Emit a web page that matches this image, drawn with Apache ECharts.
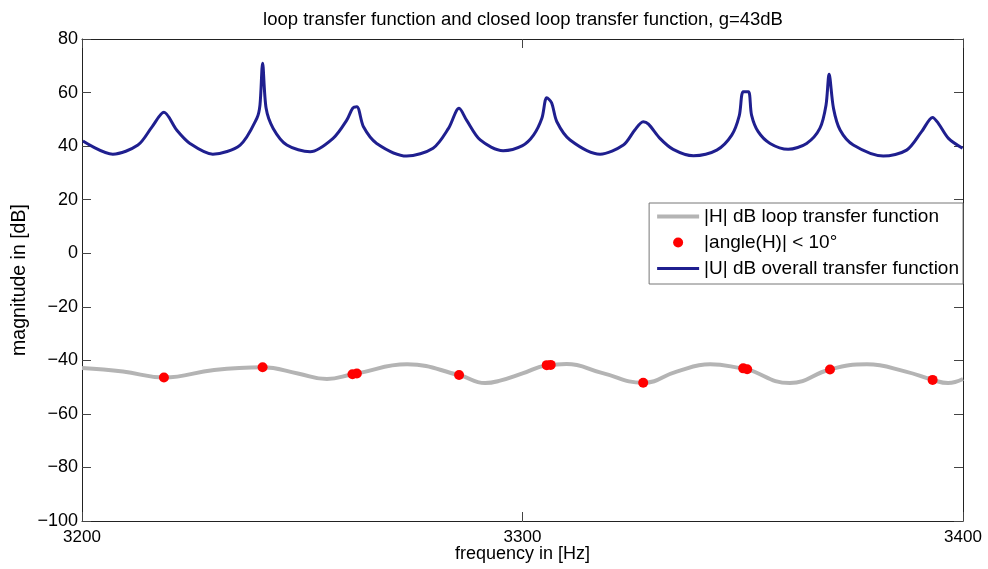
<!DOCTYPE html>
<html>
<head>
<meta charset="utf-8">
<script src="https://cdn.jsdelivr.net/npm/echarts@6/dist/echarts.min.js"></script>
<style>
  html, body { margin: 0; padding: 0; background: #fff; }
  #chart { width: 988px; height: 569px; }
</style>
</head>
<body>
<div id="chart"></div>
<script>
// |U| dB: overall (closed loop) transfer function, [frequency Hz, dB]
const overallTF = [
  [3200.2, 41.9], [3207.0, 37.0], [3212.7, 40.4], [3215.9, 47.2], [3218.6, 52.6],
  [3221.5, 46.0], [3224.5, 41.0], [3229.7, 37.0], [3235.9, 40.4], [3239.7, 50.4],
  [3240.4, 55.3], [3241.0, 70.9], [3241.8, 54.1], [3243.4, 46.6], [3246.5, 40.4],
  [3251.8, 37.9], [3257.0, 42.9], [3260.1, 49.7], [3261.5, 54.3], [3262.4, 54.7],
  [3263.9, 47.2], [3266.9, 41.0], [3273.7, 36.3], [3279.7, 39.2], [3283.2, 46.6],
  [3285.6, 54.1], [3287.3, 49.7], [3290.4, 42.3], [3295.6, 38.3], [3300.0, 40.2],
  [3302.5, 44.1], [3304.4, 50.4], [3305.5, 58.1], [3306.6, 56.2], [3307.8, 49.1],
  [3310.8, 42.3], [3317.6, 37.0], [3322.9, 40.4], [3325.5, 46.0], [3327.4, 49.1],
  [3328.6, 48.2], [3331.2, 42.9], [3334.2, 38.8], [3338.8, 36.4], [3344.1, 38.5],
  [3347.5, 44.1], [3349.2, 51.3], [3350.1, 60.3], [3351.3, 60.3], [3352.0, 51.6],
  [3353.5, 45.4], [3356.2, 41.0], [3360.3, 38.8], [3364.5, 41.0], [3367.5, 46.6],
  [3368.9, 55.3], [3369.6, 66.8], [3370.6, 54.1], [3372.1, 46.0], [3375.1, 40.4],
  [3381.9, 36.3], [3387.2, 38.5], [3390.6, 45.4], [3393.1, 50.7], [3394.4, 48.5],
  [3396.7, 42.9], [3399.9, 39.2]
];

// |H| dB: loop transfer function
const loopTF = [
  [3200.0, -42.9], [3209.3, -44.2], [3218.6, -46.4], [3230.0, -43.6], [3241.0, -42.6],
  [3249.0, -44.9], [3255.6, -47.0], [3261.4, -45.2], [3262.4, -44.9], [3273.8, -41.5],
  [3285.6, -45.5], [3291.5, -48.5], [3294.9, -47.6], [3300.0, -44.9], [3305.5, -41.8],
  [3306.4, -41.7], [3310.0, -41.4], [3318.0, -44.7], [3327.4, -48.4], [3335.0, -44.2],
  [3342.6, -41.5], [3350.1, -43.0], [3351.0, -43.3], [3360.7, -48.5], [3369.8, -43.4],
  [3378.2, -41.5], [3387.0, -44.2], [3393.1, -47.3], [3396.6, -48.5], [3400.0, -47.0]
];

// frequencies where the loop phase is within 10 degrees of zero
const phaseZeroPoints = [
  [3218.6, -46.4], [3241.0, -42.6], [3261.4, -45.2], [3262.4, -44.9],
  [3285.6, -45.5], [3305.5, -41.8], [3306.4, -41.7], [3327.4, -48.4],
  [3350.1, -43.0], [3351.0, -43.3], [3369.8, -43.4], [3393.1, -47.3]
];

const xTicks = { min: 3200, max: 3400, interval: 100 };
const yTicks = { min: -100, max: 80, interval: 20 };

const seriesNames = [
  '|H| dB loop transfer function',
  '|angle(H)| < 10°',
  '|U| dB overall transfer function'
];

const FONT = 'Liberation Sans, Arial, Helvetica, sans-serif';
const minus = v => String(v).replace('-', '\u2212');

// thin horizontal bars for the line entries of the legend (box 42 x 10)
const legendBar = t => 'path://M0,0 M42,10 M0,' + (5 - t / 2) + ' H42 V' + (5 + t / 2) + ' H0 Z';

const chart = echarts.init(document.getElementById('chart'), null, { renderer: 'canvas' });

const frameAxis = {
  axisLine: { show: true, onZero: false, lineStyle: { color: '#222', width: 1 } },
  axisTick: { show: true, inside: true, length: 9, lineStyle: { color: '#444', width: 1 } },
  splitLine: { show: false }
};

chart.setOption({
  animation: false,
  backgroundColor: '#fff',
  title: {
    text: 'loop transfer function and closed loop transfer function, g=43dB',
    left: 518,
    textAlign: 'center',
    top: 5,
    textStyle: { fontFamily: FONT, fontSize: 18.5, fontWeight: 'normal', color: '#000' }
  },
  grid: {
    left: 82, right: 25, top: 39, bottom: 48,
    containLabel: false,
    outerBoundsMode: 'none'
  },
  legend: {
    orient: 'vertical',
    right: 25,
    top: 203,
    padding: [4, 4, 6, 8],
    itemWidth: 42,
    itemHeight: 10,
    itemGap: 7,
    backgroundColor: '#fff',
    borderColor: '#777',
    borderWidth: 1,
    textStyle: { fontFamily: FONT, fontSize: 19, lineHeight: 19, color: '#000' },
    data: [
      { name: seriesNames[0], icon: legendBar(4) },
      { name: seriesNames[1], icon: 'circle' },
      { name: seriesNames[2], icon: legendBar(3) }
    ]
  },
  xAxis: [
    Object.assign({
      type: 'value', position: 'bottom',
      min: xTicks.min, max: xTicks.max, interval: xTicks.interval,
      name: 'frequency in [Hz]', nameLocation: 'middle', nameGap: 24,
      nameMoveOverlap: false,
      nameTextStyle: { fontFamily: FONT, fontSize: 18, color: '#000' },
      axisLabel: { fontFamily: FONT, fontSize: 17, color: '#000', margin: 8, formatter: v => String(v) }
    }, frameAxis),
    Object.assign({
      type: 'value', position: 'top',
      min: xTicks.min, max: xTicks.max, interval: xTicks.interval,
      axisLabel: { show: false }
    }, frameAxis)
  ],
  yAxis: [
    Object.assign({
      type: 'value', position: 'left',
      min: yTicks.min, max: yTicks.max, interval: yTicks.interval,
      name: 'magnitude in [dB]', nameLocation: 'middle', nameGap: 52,
      nameMoveOverlap: false,
      nameTextStyle: { fontFamily: FONT, fontSize: 19.5, color: '#000' },
      axisLabel: { fontFamily: FONT, fontSize: 18, color: '#000', margin: 4, formatter: minus }
    }, frameAxis),
    Object.assign({
      type: 'value', position: 'right',
      min: yTicks.min, max: yTicks.max, interval: yTicks.interval,
      axisLabel: { show: false }
    }, frameAxis)
  ],
  series: [
    {
      name: seriesNames[0],
      type: 'line',
      data: loopTF,
      smooth: 0.45,
      symbol: 'none',
      lineStyle: { color: '#b4b4b4', width: 4 },
      itemStyle: { color: '#b4b4b4' },
      z: 2
    },
    {
      name: seriesNames[1],
      type: 'scatter',
      data: phaseZeroPoints,
      symbol: 'circle',
      symbolSize: 10,
      itemStyle: { color: '#ff0000', opacity: 1 },
      z: 3
    },
    {
      name: seriesNames[2],
      type: 'line',
      data: overallTF,
      smooth: 0.3,
      symbol: 'none',
      lineStyle: { color: '#1f1f8f', width: 3 },
      itemStyle: { color: '#1f1f8f' },
      z: 4
    }
  ]
});
</script>
</body>
</html>
